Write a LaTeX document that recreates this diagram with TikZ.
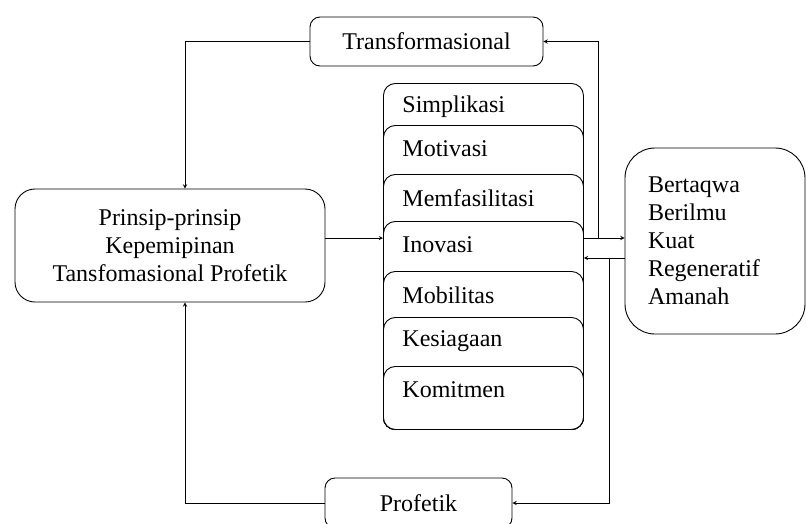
\documentclass[tikz,border=0pt]{standalone}
\usepackage{fontspec}
\setmainfont{Liberation Serif}
\usetikzlibrary{calc}

\begin{document}
\begin{tikzpicture}[x=1pt, y=-1pt, >=stealth, line width=0.9pt,
  font=\fontsize{24}{28}\selectfont,
  box/.style={draw, rounded corners=#1, fill=white, inner sep=0pt},
  stackbox/.style={box=12pt, minimum width=200pt, anchor=north west}]

% Frame (reference size in px)
\useasboundingbox (0,0) rectangle (806,523);

% Parameters
\def\stackbot{429}        % bottom of the stacked boxes

% Top and bottom labels
\node[box=10pt, minimum width=233pt, minimum height=49pt] (trans) at (426.5,41.5) {Transformasional};
\node[box=10pt, minimum width=187pt, minimum height=50pt] (prof) at (418.5,503) {Profetik};

% Main principle box
\node[box=20pt, minimum width=310pt, minimum height=113pt, align=center] (prinsip) at (170,245.5)
  {Prinsip-prinsip\\Kepemipinan\\Tansfomasional Profetik};

% Stacked boxes, each drawn over the one above
\foreach \txt/\top [count=\i] in {Simplikasi/83, Motivasi/125, Memfasilitasi/174, Inovasi/221,
                                  Mobilitas/271, Kesiagaan/317, Komitmen/366}{
  \node[stackbox, minimum height={\stackbot-\top}] (box\i) at (383,\top) {};
  \node[anchor=west, inner sep=0pt] (lbl\i) at ([xshift=19pt,yshift=-24pt]box\i.north west) {\txt};
}

% Outcome box
\node[box=30pt, minimum width=180pt, minimum height=186pt, text width=134pt,
      inner xsep=23pt, align=left] (hasil) at (715,241)
  {Bertaqwa\\Berilmu\\Kuat\\Regeneratif\\Amanah};

% Arrow into the stack
\coordinate (in) at ([yshift=7.5pt]prinsip.east);
\draw[->] (in) -- (in -| box4.west);

% Stack to outcome, and back up to Transformasional
\coordinate (out) at (in -| box4.east);
\draw[->] (out) -- (out -| hasil.west);
\coordinate (up) at ($(out)+(15,0)$);
\draw[->] (up) |- (trans.east);

% Outcome back to stack, and down to Profetik
\coordinate (back) at ($(out)+(0,20)$);
\draw[->] (back -| hasil.west) -- (back);
\coordinate (down) at ($(back)+(26,0)$);
\draw[->] (down) |- (prof.east);

% Feedback into the principle box
\draw[->] (trans.west) -| ([xshift=15pt]prinsip.north);
\draw[->] (prof.west) -| ([xshift=15pt]prinsip.south);

\end{tikzpicture}
\end{document}
